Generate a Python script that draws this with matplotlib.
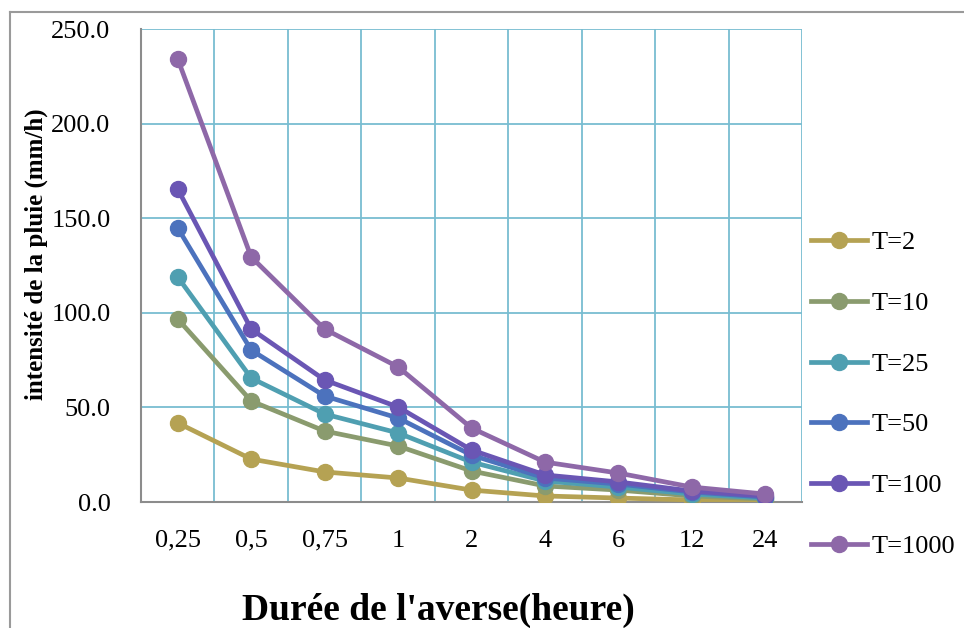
import matplotlib
matplotlib.use("Agg")
import matplotlib.pyplot as plt
from matplotlib.lines import Line2D

plt.rcParams['font.family'] = ['Liberation Serif', 'DejaVu Serif']

# durations (hours) and rain intensity (mm/h) per return period
durees = ['0,25', '0,5', '0,75', '1', '2', '4', '6', '12', '24']
t2 = [41.8, 22.7, 15.9, 12.7, 6.3, 3.2, 2.1, 1.1, 0.5]
t10 = [96.7, 53.4, 37.5, 29.6, 16.4, 8.5, 6.3, 3.2, 1.6]
t25 = [118.9, 65.5, 46.5, 36.5, 21.1, 11.1, 7.9, 4.2, 2.1]
t50 = [144.8, 80.3, 56.0, 44.4, 24.8, 12.7, 9.5, 5.3, 2.6]
t100 = [165.4, 91.4, 64.5, 50.2, 27.5, 14.3, 10.6, 5.8, 3.2]
t1000 = [234.1, 129.5, 91.4, 71.4, 39.1, 21.1, 15.3, 7.9, 4.2]

series = [('T=2', t2, '#B5A253'),
          ('T=10', t10, '#8A9B6E'),
          ('T=25', t25, '#4F9FB1'),
          ('T=50', t50, '#4C72BD'),
          ('T=100', t100, '#6A56B4'),
          ('T=1000', t1000, '#8E68A8')]

fig = plt.figure(figsize=(9.64, 6.28), dpi=100)
ax = fig.add_axes([0.1463, 0.2006, 0.6857, 0.7532])

x = list(range(len(durees)))
for name, vals, col in series:
    ax.plot(x, vals, color=col, lw=3.4, marker='o', ms=11.5, label=name, zorder=3)

ax.set_xlim(-0.5, len(durees) - 0.5)
ax.set_ylim(0, 250)
ax.set_yticks([0, 50, 100, 150, 200, 250])
ax.set_yticklabels(['%.1f' % v for v in [0, 50, 100, 150, 200, 250]])
ax.set_xticks(x)
ax.set_xticklabels(durees)
ax.set_xticks([i - 0.5 for i in range(len(durees) + 1)], minor=True)
ax.tick_params(axis='both', which='both', length=0, labelsize=19)
ax.tick_params(axis='y', pad=22)
ax.tick_params(axis='x', pad=20)

grid_col = '#78BDD1'
ax.grid(axis='y', which='major', color=grid_col, lw=1.3, zorder=0)
ax.grid(axis='x', which='minor', color=grid_col, lw=1.3, zorder=0)
ax.grid(axis='x', which='major', visible=False)
ax.set_axisbelow(True)
for s in ['top', 'right']:
    ax.spines[s].set_visible(False)
for s in ['left', 'bottom']:
    ax.spines[s].set_color('#8C8C8C')
    ax.spines[s].set_linewidth(1.5)
    ax.spines[s].set_zorder(2)

ax.set_ylabel('intensité de la pluie (mm/h)', fontsize=18, fontweight='bold')
ax.yaxis.set_label_coords(-0.141, 0.524)
fig.text(0.455, 0.0, "Durée de l'averse(heure)", fontsize=27, fontweight='bold',
         ha='center', va='bottom')

leg = fig.legend(loc='center left', bbox_to_anchor=(0.841, 0.372), frameon=False,
                 fontsize=19, handlelength=2.15, handletextpad=0.15,
                 labelspacing=1.41, borderpad=0, borderaxespad=0)

# outer chart border
fig.add_artist(Line2D([0.0104, 0.0104], [0, 0.981], color='#9A9A9A', lw=1.5))
fig.add_artist(Line2D([0.0104, 1], [0.981, 0.981], color='#9A9A9A', lw=1.5))

fig.savefig('out.png', dpi=100)
